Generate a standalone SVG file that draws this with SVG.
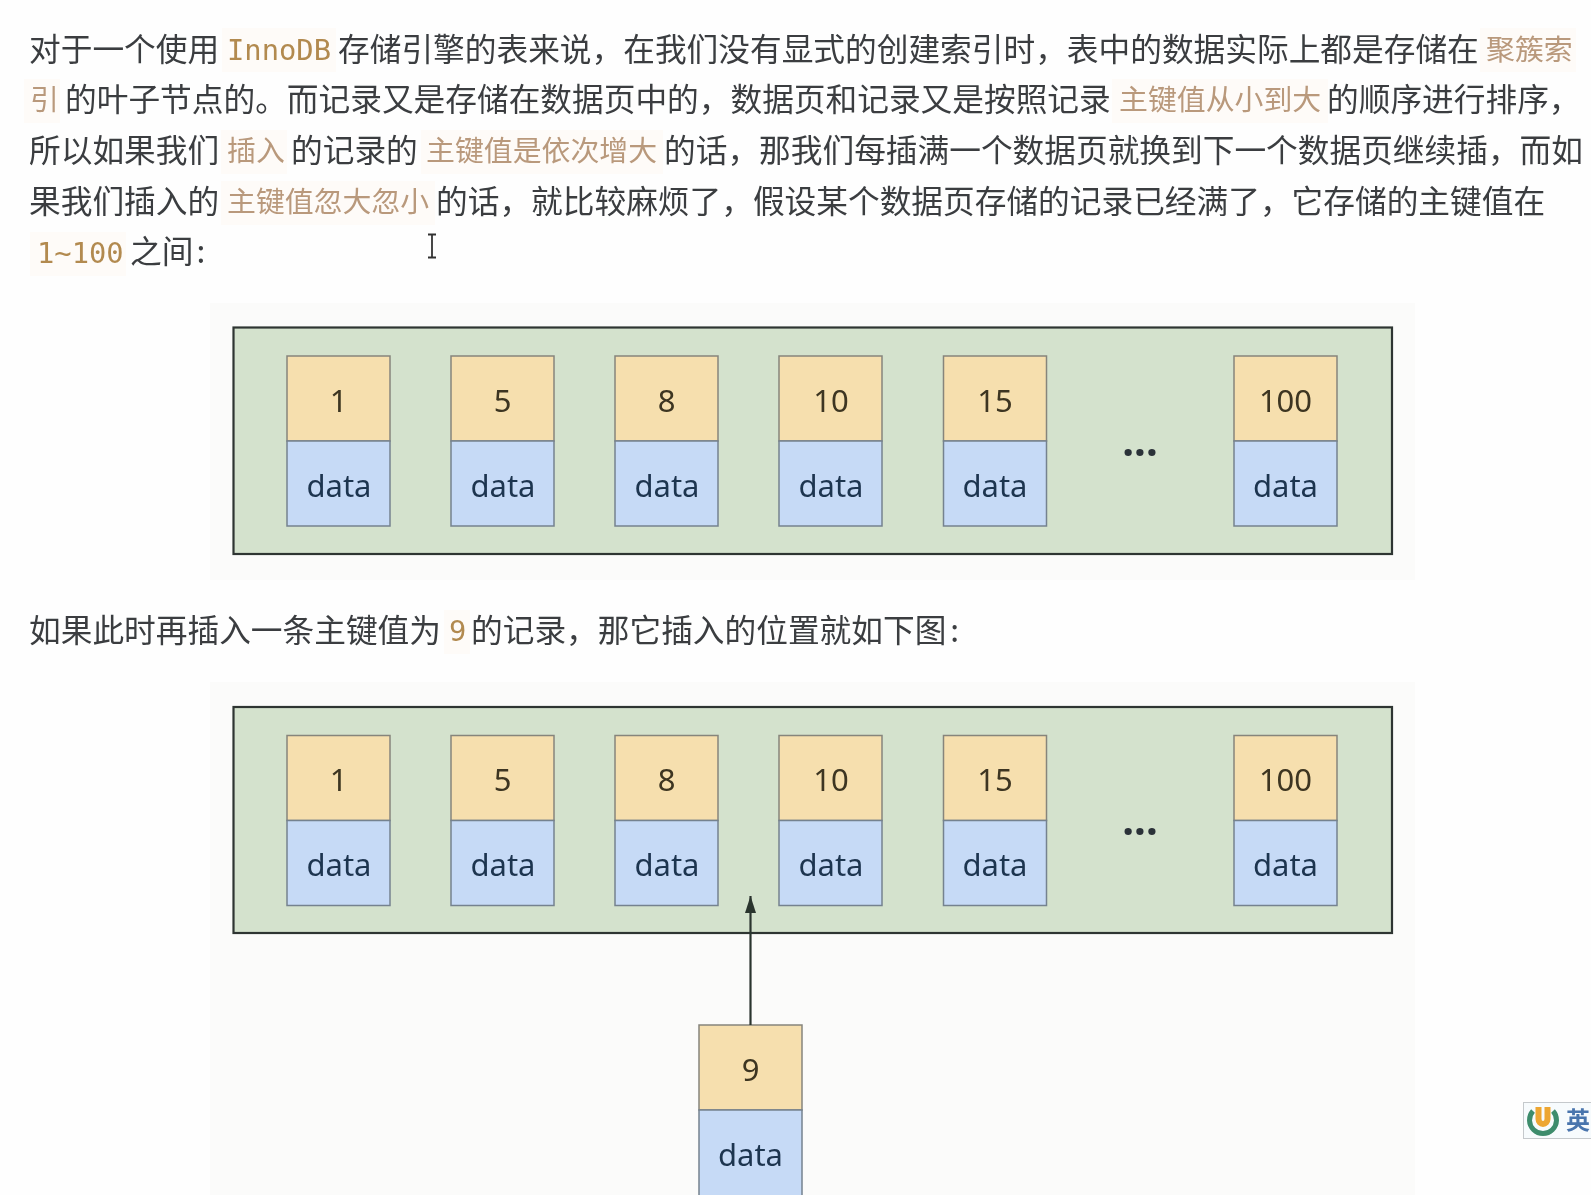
<svg xmlns="http://www.w3.org/2000/svg" width="1591" height="1195" viewBox="0 0 1591 1195">
<style>
text{font-family:"Noto Sans CJK SC","Noto Sans",sans-serif}
.t{font-size:31.7px;fill:#3a3d40}
.h{font-size:28.9px;fill:#b9997c}
.c{font-family:"DejaVu Sans Mono","Liberation Mono",monospace;font-size:28.8px;fill:#b28a50}
.chip{fill:#fefbf8}
.panel{fill:#fbfbfa}
.page{fill:#d4e2cd;stroke:#2e3532;stroke-width:2.2}
.k{fill:#f6dfae;stroke:#86857c;stroke-width:1.5}
.d{fill:#c6daf6;stroke:#75828f;stroke-width:1.5}
.kt,.dt{font-family:"Noto Sans","Open Sans",sans-serif;font-size:31px;text-anchor:middle}
.kt{fill:#3d3520}
.dt{fill:#1f3550}
.dots{font-family:"Noto Sans","Open Sans",sans-serif;font-size:42px;font-weight:700;text-anchor:middle;fill:#2b3038}
.conn{stroke:#2c342f;stroke-width:2.2;fill:none}
</style>
<defs>
<marker id="arrow" markerUnits="userSpaceOnUse" markerWidth="17" markerHeight="11" refX="17" refY="5.500" orient="auto" viewBox="0 0 17 11"><path d="M0 0L17 5.500L0 11Z" fill="#2c342f"/></marker>
<filter id="soft" x="0" y="0" width="100%" height="100%"><feGaussianBlur stdDeviation="0.45"/></filter>
</defs>
<rect width="1591" height="1195" fill="#fefefe"/>
<g filter="url(#soft)">
<g id="paragraph-1">
<rect class="chip" x="222" y="28" width="114" height="44"/>
<rect class="chip" x="1480" y="28" width="96" height="44"/>
<rect class="chip" x="24" y="79" width="36" height="44"/>
<rect class="chip" x="1112" y="79" width="216" height="44"/>
<rect class="chip" x="221" y="130" width="66" height="44"/>
<rect class="chip" x="421" y="130" width="242" height="44"/>
<rect class="chip" x="221" y="181" width="214" height="44"/>
<rect class="chip" x="30" y="232" width="96" height="44"/>
<text class="t" x="29" y="61">对于一个使用</text>
<text class="c" x="227" y="60">InnoDB</text>
<text class="t" x="338" y="61">存储引擎的表来说，在我们没有显式的创建索引时，表中的数据实际上都是存储在</text>
<text class="h" x="1486" y="60">聚簇索</text>
<text class="h" x="30" y="110">引</text>
<text class="t" x="65" y="111">的叶子节点的。而记录又是存储在数据页中的，数据页和记录又是按照记录</text>
<text class="h" x="1119" y="110">主键值从小到大</text>
<text class="t" x="1327" y="111">的顺序进行排序，</text>
<text class="t" x="29" y="162">所以如果我们</text>
<text class="h" x="227" y="161">插入</text>
<text class="t" x="291" y="162">的记录的</text>
<text class="h" x="426" y="161">主键值是依次增大</text>
<text class="t" x="664" y="162">的话，那我们每插满一个数据页就换到下一个数据页继续插，而如</text>
<text class="t" x="29" y="213">果我们插入的</text>
<text class="h" x="227" y="212">主键值忽大忽小</text>
<text class="t" x="436" y="213">的话，就比较麻烦了，假设某个数据页存储的记录已经满了，它存储的主键值在</text>
<text class="c" x="37" y="263">1~100</text>
<text class="t" x="130" y="263">之间<tspan dx="3">:</tspan></text>
</g>
<path id="cursor" d="M428 234.500h8M432 234.500v23M428 257.500h8" stroke="#333" stroke-width="1.8" fill="none"/>
<rect class="panel" x="210" y="303" width="1205" height="277"/>
<g id="page-1">
<rect class="page" x="233.500" y="327.500" width="1158.500" height="226.500"/>
</g>
<g id="n1-1"><rect class="k" x="287" y="356" width="103" height="85"/><rect class="d" x="287" y="441" width="103" height="85"/><text class="kt" x="338.500" y="412">1</text><text class="dt" x="339" y="497">data</text></g>
<g id="n1-5"><rect class="k" x="451" y="356" width="103" height="85"/><rect class="d" x="451" y="441" width="103" height="85"/><text class="kt" x="502.500" y="412">5</text><text class="dt" x="503" y="497">data</text></g>
<g id="n1-8"><rect class="k" x="615" y="356" width="103" height="85"/><rect class="d" x="615" y="441" width="103" height="85"/><text class="kt" x="666.500" y="412">8</text><text class="dt" x="667" y="497">data</text></g>
<g id="n1-10"><rect class="k" x="779" y="356" width="103" height="85"/><rect class="d" x="779" y="441" width="103" height="85"/><text class="kt" x="831" y="412">10</text><text class="dt" x="831" y="497">data</text></g>
<g id="n1-15"><rect class="k" x="943.500" y="356" width="103" height="85"/><rect class="d" x="943.500" y="441" width="103" height="85"/><text class="kt" x="995" y="412">15</text><text class="dt" x="995" y="497">data</text></g>
<g id="n1-dots"><text class="dots" x="1140" y="456">...</text></g>
<g id="n1-100"><rect class="k" x="1234" y="356" width="103" height="85"/><rect class="d" x="1234" y="441" width="103" height="85"/><text class="kt" x="1285.500" y="412">100</text><text class="dt" x="1285.500" y="497">data</text></g>
<g id="paragraph-2">
<rect class="chip" x="444" y="610" width="26" height="44"/>
<text class="t" x="29" y="642">如果此时再插入一条主键值为</text>
<text class="c" x="449" y="641">9</text>
<text class="t" x="471" y="642">的记录，那它插入的位置就如下图<tspan dx="4">:</tspan></text>
</g>
<rect class="panel" x="210" y="682" width="1205" height="513"/>
<g id="page-2">
<rect class="page" x="233.500" y="707" width="1158.500" height="226"/>
</g>
<g id="n2-1"><rect class="k" x="287" y="735.500" width="103" height="85"/><rect class="d" x="287" y="820.500" width="103" height="85"/><text class="kt" x="338.500" y="791">1</text><text class="dt" x="339" y="876">data</text></g>
<g id="n2-5"><rect class="k" x="451" y="735.500" width="103" height="85"/><rect class="d" x="451" y="820.500" width="103" height="85"/><text class="kt" x="502.500" y="791">5</text><text class="dt" x="503" y="876">data</text></g>
<g id="n2-8"><rect class="k" x="615" y="735.500" width="103" height="85"/><rect class="d" x="615" y="820.500" width="103" height="85"/><text class="kt" x="666.500" y="791">8</text><text class="dt" x="667" y="876">data</text></g>
<g id="n2-10"><rect class="k" x="779" y="735.500" width="103" height="85"/><rect class="d" x="779" y="820.500" width="103" height="85"/><text class="kt" x="831" y="791">10</text><text class="dt" x="831" y="876">data</text></g>
<g id="n2-15"><rect class="k" x="943.500" y="735.500" width="103" height="85"/><rect class="d" x="943.500" y="820.500" width="103" height="85"/><text class="kt" x="995" y="791">15</text><text class="dt" x="995" y="876">data</text></g>
<g id="n2-dots"><text class="dots" x="1140" y="835">...</text></g>
<g id="n2-100"><rect class="k" x="1234" y="735.500" width="103" height="85"/><rect class="d" x="1234" y="820.500" width="103" height="85"/><text class="kt" x="1285.500" y="791">100</text><text class="dt" x="1285.500" y="876">data</text></g>
<g id="n-9"><rect class="k" x="699" y="1025" width="103" height="85"/><rect class="d" x="699" y="1110" width="103" height="95"/><text class="kt" x="750.500" y="1081">9</text><text class="dt" x="750.500" y="1166">data</text></g>
<g id="connectors">
<path class="conn" d="M750.500 1025V896" marker-end="url(#arrow)"/>
</g>
<g id="ime-badge">
<rect x="1523.500" y="1102.500" width="80" height="36" fill="#f7fbfd" stroke="#c5c9cc"/>
<path d="M1533 1111a13.500 13.500 0 1 0 20 0" fill="none" stroke="#3e8c6c" stroke-width="5"/>
<path d="M1538.500 1107v12a4.500 5 0 0 0 9 0v-12" fill="none" stroke="#eda630" stroke-width="6"/>
<text x="1566" y="1129" font-size="24" font-weight="700" fill="#4a74ad">英</text>
</g>
</g>
</svg>
